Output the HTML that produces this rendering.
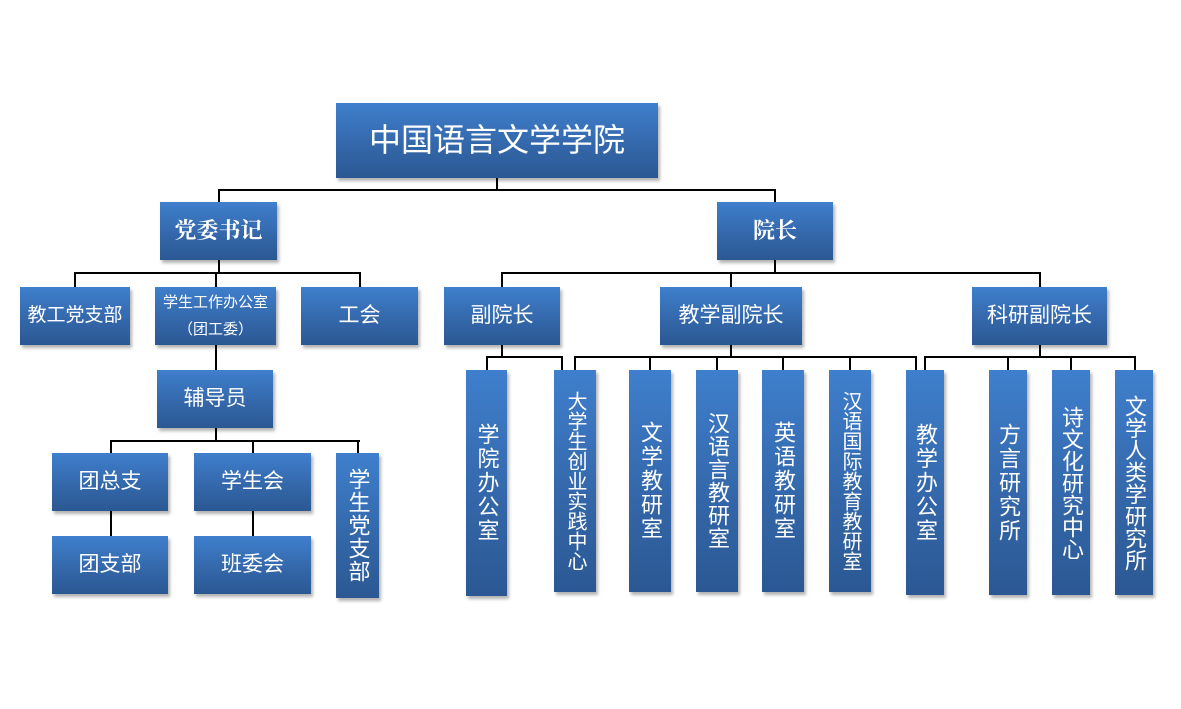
<!DOCTYPE html>
<html><head><meta charset="utf-8"><style>
body{margin:0;width:1181px;height:709px;background:#fff;position:relative;overflow:hidden;font-family:"Liberation Sans","Noto Sans CJK SC",sans-serif}
.b{position:absolute;background:linear-gradient(#3f7fcd,#3366a8 60%,#2b5893);color:#fff;display:flex;align-items:center;justify-content:center;text-align:center;box-shadow:2px 3px 3px rgba(0,0,0,.3);font-size:21px;line-height:1.2}
.v{writing-mode:vertical-rl;text-orientation:upright;font-size:20px;line-height:1}
.l{position:absolute;background:#000}
</style></head><body>
<div class="l" style="left:496px;top:178px;width:2px;height:12px"></div>
<div class="l" style="left:218px;top:189px;width:558px;height:2px"></div>
<div class="l" style="left:218px;top:189px;width:2px;height:13px"></div>
<div class="l" style="left:774px;top:189px;width:2px;height:13px"></div>
<div class="l" style="left:218px;top:260px;width:2px;height:13px"></div>
<div class="l" style="left:74px;top:272px;width:287px;height:2px"></div>
<div class="l" style="left:74px;top:272px;width:2px;height:15px"></div>
<div class="l" style="left:215px;top:272px;width:2px;height:15px"></div>
<div class="l" style="left:359px;top:272px;width:2px;height:15px"></div>
<div class="l" style="left:215px;top:345px;width:2px;height:25px"></div>
<div class="l" style="left:215px;top:428px;width:2px;height:13px"></div>
<div class="l" style="left:110px;top:440px;width:250px;height:2px"></div>
<div class="l" style="left:110px;top:440px;width:2px;height:13px"></div>
<div class="l" style="left:252px;top:440px;width:2px;height:13px"></div>
<div class="l" style="left:357px;top:440px;width:2px;height:13px"></div>
<div class="l" style="left:110px;top:511px;width:2px;height:25px"></div>
<div class="l" style="left:252px;top:511px;width:2px;height:25px"></div>
<div class="l" style="left:774px;top:260px;width:2px;height:13px"></div>
<div class="l" style="left:501px;top:272px;width:540px;height:2px"></div>
<div class="l" style="left:501px;top:272px;width:2px;height:15px"></div>
<div class="l" style="left:730px;top:272px;width:2px;height:15px"></div>
<div class="l" style="left:1039px;top:272px;width:2px;height:15px"></div>
<div class="l" style="left:501px;top:345px;width:2px;height:12px"></div>
<div class="l" style="left:486px;top:356px;width:77px;height:2px"></div>
<div class="l" style="left:486px;top:356px;width:2px;height:14px"></div>
<div class="l" style="left:561px;top:356px;width:2px;height:14px"></div>
<div class="l" style="left:730px;top:345px;width:2px;height:12px"></div>
<div class="l" style="left:574px;top:356px;width:343px;height:2px"></div>
<div class="l" style="left:574px;top:356px;width:2px;height:14px"></div>
<div class="l" style="left:649px;top:356px;width:2px;height:14px"></div>
<div class="l" style="left:716px;top:356px;width:2px;height:14px"></div>
<div class="l" style="left:782px;top:356px;width:2px;height:14px"></div>
<div class="l" style="left:849px;top:356px;width:2px;height:14px"></div>
<div class="l" style="left:915px;top:356px;width:2px;height:14px"></div>
<div class="l" style="left:1039px;top:345px;width:2px;height:12px"></div>
<div class="l" style="left:924px;top:356px;width:212px;height:2px"></div>
<div class="l" style="left:924px;top:356px;width:2px;height:14px"></div>
<div class="l" style="left:1007px;top:356px;width:2px;height:14px"></div>
<div class="l" style="left:1070px;top:356px;width:2px;height:14px"></div>
<div class="l" style="left:1134px;top:356px;width:2px;height:14px"></div>
<div class="b" style="left:336px;top:103px;width:322px;height:75px;font-size:32px">中国语言文学学院</div>
<div class="b" style="left:160px;top:202px;width:117px;height:58px;font-weight:bold;font-size:22px;font-family:'Liberation Serif','Noto Serif CJK SC',serif">党委书记</div>
<div class="b" style="left:717px;top:202px;width:116px;height:58px;font-weight:bold;font-size:22px;font-family:'Liberation Serif','Noto Serif CJK SC',serif">院长</div>
<div class="b" style="left:20px;top:287px;width:110px;height:58px;font-size:19px">教工党支部</div>
<div class="b" style="left:155px;top:287px;width:121px;height:58px;font-size:15px;line-height:1.8">学生工作办公室<br>（团工委）</div>
<div class="b" style="left:301px;top:287px;width:117px;height:58px">工会</div>
<div class="b" style="left:157px;top:370px;width:116px;height:58px">辅导员</div>
<div class="b" style="left:52px;top:453px;width:116px;height:58px">团总支</div>
<div class="b" style="left:194px;top:453px;width:117px;height:58px">学生会</div>
<div class="b v" style="left:336px;top:453px;width:43px;height:145px;font-size:22px;letter-spacing:1px">学生党支部</div>
<div class="b" style="left:52px;top:536px;width:116px;height:58px">团支部</div>
<div class="b" style="left:194px;top:536px;width:117px;height:58px">班委会</div>
<div class="b" style="left:444px;top:287px;width:116px;height:58px">副院长</div>
<div class="b" style="left:660px;top:287px;width:142px;height:58px">教学副院长</div>
<div class="b" style="left:972px;top:287px;width:135px;height:58px">科研副院长</div>
<div class="b v" style="left:466px;top:370px;width:41px;height:226px;font-size:22px;letter-spacing:2px">学院办公室</div>
<div class="b v" style="left:554px;top:370px;width:42px;height:222px">大学生创业实践中心</div>
<div class="b v" style="left:629px;top:370px;width:42px;height:222px;font-size:22px;letter-spacing:2px">文学教研室</div>
<div class="b v" style="left:696px;top:370px;width:42px;height:222px;font-size:22px;letter-spacing:1px">汉语言教研室</div>
<div class="b v" style="left:762px;top:370px;width:42px;height:222px;font-size:22px;letter-spacing:2px">英语教研室</div>
<div class="b v" style="left:829px;top:370px;width:42px;height:222px">汉语国际教育教研室</div>
<div class="b v" style="left:906px;top:370px;width:38px;height:225px;font-size:22px;letter-spacing:2px">教学办公室</div>
<div class="b v" style="left:989px;top:370px;width:38px;height:225px;font-size:22px;letter-spacing:2px">方言研究所</div>
<div class="b v" style="left:1052px;top:370px;width:38px;height:225px;font-size:22px">诗文化研究中心</div>
<div class="b v" style="left:1115px;top:370px;width:38px;height:225px;font-size:22px">文学人类学研究所</div>
</body></html>
